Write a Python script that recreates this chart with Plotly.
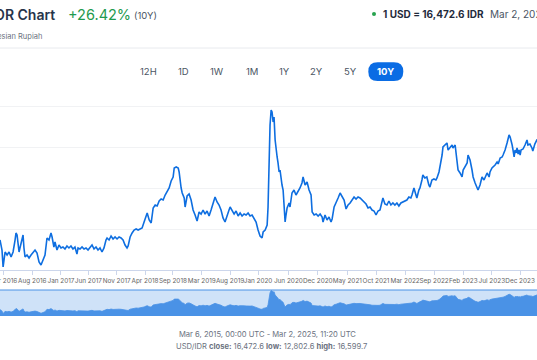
import plotly.graph_objects as go

# ---------------- data ----------------
dates = [
"2016-02-17","2016-02-23","2016-02-28","2016-03-05","2016-03-10","2016-03-16","2016-03-27","2016-04-07","2016-04-18","2016-04-29",
"2016-05-10","2016-05-15","2016-05-21","2016-05-26","2016-06-01","2016-06-06","2016-06-17","2016-06-23","2016-06-28","2016-07-04",
"2016-07-15","2016-07-26","2016-08-06","2016-08-17","2016-08-28","2016-09-08","2016-09-19","2016-09-30","2016-10-11","2016-10-22",
"2016-11-02","2016-11-13","2016-11-24","2016-11-30","2016-12-10","2016-12-16","2016-12-27","2017-01-07","2017-01-18","2017-01-29",
"2017-02-09","2017-02-20","2017-03-03","2017-03-14","2017-03-25","2017-04-05","2017-04-16","2017-04-22","2017-05-03","2017-05-14",
"2017-05-25","2017-06-05","2017-06-16","2017-06-27","2017-07-08","2017-07-19","2017-07-30","2017-08-10","2017-08-21","2017-09-01",
"2017-09-12","2017-09-23","2017-09-29","2017-10-10","2017-10-21","2017-11-01","2017-11-12","2017-11-23","2017-12-04","2017-12-15",
"2017-12-26","2018-01-06","2018-01-17","2018-01-23","2018-02-03","2018-02-14","2018-02-25","2018-03-08","2018-03-19","2018-03-30",
"2018-04-10","2018-04-21","2018-05-02","2018-05-08","2018-05-19","2018-05-30","2018-06-10","2018-06-21","2018-07-02","2018-07-13",
"2018-07-24","2018-08-04","2018-08-15","2018-08-26","2018-09-06","2018-09-17","2018-09-28","2018-10-04","2018-10-15","2018-10-26",
"2018-10-31","2018-11-11","2018-11-17","2018-11-28","2018-12-03","2018-12-14","2018-12-25","2019-01-05","2019-01-16","2019-01-27",
"2019-02-07","2019-02-18","2019-03-01","2019-03-12","2019-03-23","2019-04-03","2019-04-14","2019-04-25","2019-05-06","2019-05-17",
"2019-05-28","2019-06-08","2019-06-19","2019-06-30","2019-07-11","2019-07-22","2019-08-02","2019-08-08","2019-08-19","2019-08-30",
"2019-09-10","2019-09-21","2019-10-02","2019-10-13","2019-10-24","2019-11-04","2019-11-15","2019-11-26","2019-12-07","2019-12-18",
"2019-12-29","2020-01-09","2020-01-20","2020-01-31","2020-02-06","2020-02-17","2020-02-28","2020-03-04","2020-03-10","2020-03-15",
"2020-03-21","2020-03-26","2020-04-01","2020-04-06","2020-04-12","2020-04-17","2020-04-23","2020-04-28","2020-05-04","2020-05-09",
"2020-05-15","2020-05-20","2020-05-26","2020-05-31","2020-06-06","2020-06-11","2020-06-17","2020-06-28","2020-07-03","2020-07-14",
"2020-07-25","2020-08-05","2020-08-16","2020-08-27","2020-09-07","2020-09-13","2020-09-24","2020-10-05","2020-10-16","2020-10-27",
"2020-11-02","2020-11-13","2020-11-24","2020-12-05","2020-12-16","2020-12-27","2021-01-01","2021-01-12","2021-01-23","2021-02-03",
"2021-02-14","2021-02-20","2021-03-03","2021-03-14","2021-03-25","2021-04-05","2021-04-16","2021-04-27","2021-05-08","2021-05-19",
"2021-05-30","2021-06-10","2021-06-21","2021-07-02","2021-07-13","2021-07-24","2021-08-04","2021-08-15","2021-08-26","2021-09-06",
"2021-09-17","2021-09-28","2021-10-09","2021-10-20","2021-10-31","2021-11-11","2021-11-22","2021-11-27","2021-12-08","2021-12-19",
"2021-12-30","2022-01-10","2022-01-21","2022-02-01","2022-02-12","2022-02-23","2022-03-06","2022-03-17","2022-03-28","2022-04-08",
"2022-04-19","2022-04-30","2022-05-06","2022-05-17","2022-05-28","2022-06-02","2022-06-13","2022-06-19","2022-06-30","2022-07-05",
"2022-07-16","2022-07-27","2022-08-07","2022-08-13","2022-08-24","2022-09-04","2022-09-15","2022-09-21","2022-10-02","2022-10-08",
"2022-10-19","2022-10-24","2022-11-04","2022-11-15","2022-11-21","2022-12-02","2022-12-13","2022-12-18","2022-12-30","2023-01-04",
"2023-01-10","2023-01-15","2023-01-26","2023-02-06","2023-02-12","2023-02-23","2023-03-06","2023-03-11","2023-03-17","2023-03-22",
"2023-04-02","2023-04-08","2023-04-19","2023-04-30","2023-05-05","2023-05-16","2023-05-27","2023-06-07","2023-06-18","2023-06-24",
"2023-07-05","2023-07-10","2023-07-21","2023-07-27","2023-08-07","2023-08-18","2023-08-24","2023-09-04","2023-09-15","2023-09-20",
"2023-10-01","2023-10-12","2023-10-18","2023-10-23","2023-10-29","2023-11-03","2023-11-09","2023-11-14","2023-11-20","2023-11-25",
"2023-12-01","2023-12-06","2023-12-12","2023-12-17","2023-12-23","2023-12-28","2024-01-08","2024-01-19","2024-01-30","2024-02-04",
"2024-02-15","2024-02-26","2024-03-02","2024-03-13","2024-03-24","2024-04-10",
]
rates = [
13457,13336,13215,12804,13022,13167,13094,13167,13046,13167,
13457,13627,13578,13336,13167,13264,13506,13578,13264,13046,
13094,13022,13094,13167,13215,13143,12925,12852,12973,13094,
13506,13457,13627,13530,13288,13409,13215,13336,13264,13288,
13240,13312,13264,13312,13240,13288,13118,13264,13240,13288,
13240,13264,13215,13288,13336,13240,13288,13215,13264,13167,
13264,13457,13506,13457,13554,13482,13530,13482,13530,13506,
13457,13336,13264,13312,13530,13627,13699,13724,13699,13724,
13748,13893,14038,14111,13941,13869,14232,14304,14280,14401,
14449,14425,14546,14619,14716,14885,14982,15200,15224,15200,
15103,14716,14595,14474,14256,14522,14570,14425,14183,14062,
13917,14135,14086,14183,14086,14159,14038,14183,14328,14498,
14377,14304,14183,13990,13893,14062,14183,14256,14159,14086,
14159,14038,14111,14038,14086,14062,14111,14038,14062,13966,
13893,13699,13554,13506,13651,13699,13820,14256,15393,16240,
16603,16555,16313,16434,15877,15635,15466,15321,15103,15151,
14909,14788,14667,14304,13893,14062,14232,14353,14256,14595,
14667,14546,14619,14716,14837,14982,14788,14861,14667,14546,
14135,14062,14086,14038,14086,14014,13893,14062,13941,14014,
13893,13966,14256,14353,14474,14595,14498,14425,14208,14304,
14353,14425,14498,14449,14498,14474,14425,14401,14328,14232,
14256,14183,14159,14062,14159,14183,14353,14474,14328,14304,
14401,14304,14353,14304,14353,14280,14353,14377,14401,14425,
14498,14474,14546,14716,14546,14474,14667,14716,14909,15030,
14958,14982,14788,14740,14909,14934,14909,14958,15103,15224,
15514,15708,15756,15805,15635,15708,15756,15684,15756,15563,
15393,15151,15079,14982,15151,15224,15321,15514,15466,15393,
15151,14982,14837,14740,14667,14788,14982,14909,15030,15079,
14982,15103,15200,15224,15272,15345,15297,15442,15466,15514,
15635,15805,15926,15998,15950,15877,15756,15635,15466,15635,
15563,15684,15538,15635,15514,15635,15659,15756,15877,15756,
15780,15684,15611,15780,15877,15853,
]

tick_dates = ["2016-03-06","2016-08-13","2017-01-18","2017-06-18","2017-11-21","2018-04-26",
              "2018-09-27","2019-03-05","2019-08-08","2020-01-09","2020-06-24","2020-12-03",
              "2021-05-15","2021-10-20","2022-03-29","2022-09-05","2023-02-13","2023-07-20",
              "2023-12-23"]
tick_labels = ["Mar 2016","Aug 2016","Jan 2017","Jun 2017","Nov 2017","Apr 2018",
               "Sep 2018","Mar 2019","Aug 2019","Jan 2020","Jun 2020","Dec 2020",
               "May 2021","Oct 2021","Mar 2022","Sep 2022","Feb 2023","Jul 2023",
               "Dec 2023"]
grid_values = [13700, 14700, 15700, 16700]
range_buttons = ["12H", "1D", "1W", "1M", "1Y", "2Y", "5Y", "10Y"]
active_button = "10Y"

# ---------------- layout helpers ----------------
W, H = 537, 360
def px(x): return x / W
def py(y): return 1 - y / H

FONT = "Inter, Roboto, sans-serif"
BLUE = "#0e6ee0"

fig = go.Figure()
fig.add_trace(go.Scatter(x=dates, y=rates, mode="lines",
                         line=dict(color=BLUE, width=1.6), xaxis="x", yaxis="y",
                         hoverinfo="skip"))
fig.add_trace(go.Scatter(x=dates, y=rates, mode="lines", fill="tozeroy",
                         fillcolor="#4a92e6", line=dict(color="#4a92e6", width=0.8),
                         xaxis="x2", yaxis="y2", hoverinfo="skip"))

xrange = ["2016-02-17", "2024-03-25"]

shapes = []
# header separator
shapes.append(dict(type="line", xref="paper", yref="paper", x0=0, x1=1,
                   y0=py(48), y1=py(48), line=dict(color="#e8eaee", width=1)))
# navigator mask
shapes.append(dict(type="rect", xref="paper", yref="paper", x0=0, x1=1,
                   y0=py(316), y1=py(290), fillcolor="#cfe2f8", line=dict(width=0),
                   layer="below"))
shapes.append(dict(type="line", xref="paper", yref="paper", x0=0, x1=1,
                   y0=py(290), y1=py(290), line=dict(color="#4a92e6", width=1)))
# green status dot
shapes.append(dict(type="circle", xref="paper", yref="paper",
                   x0=px(372), x1=px(376), y0=py(16), y1=py(12),
                   fillcolor="#27a34f", line=dict(width=0)))
# active range pill
x0, x1, y0, y1, r = 368.3, 403.3, 62.3, 81.0, 9.35
rx, ry = r / W, r / H
X0, X1, Y0, Y1 = px(x0), px(x1), py(y1), py(y0)
path = (f"M {X0+rx},{Y0} L {X1-rx},{Y0} Q {X1},{Y0} {X1},{Y0+ry} "
        f"L {X1},{Y1-ry} Q {X1},{Y1} {X1-rx},{Y1} L {X0+rx},{Y1} "
        f"Q {X0},{Y1} {X0},{Y1-ry} L {X0},{Y0+ry} Q {X0},{Y0} {X0+rx},{Y0} Z")
shapes.append(dict(type="path", xref="paper", yref="paper", path=path,
                   fillcolor="#0a6ce4", line=dict(width=0)))

ann = []
def text(x, y, s, size, color, anchor="left", weight="normal"):
    ann.append(dict(x=px(x), y=py(y), xref="paper", yref="paper", text=s,
                    showarrow=False, xanchor=anchor, yanchor="middle",
                    font=dict(family=FONT, size=size, color=color, weight=weight)))

text(57, 15, "USD to IDR Chart", 14, "#27344a", "right", 600)
text(66, 15, "+26.42%", 14.5, "#1f9a4e", "left")
text(132, 16, "(10Y)", 9.5, "#4b5563", "left")
text(43.5, 36.5, "US Dollar to Indonesian Rupiah", 7.5, "#6b7280", "right")
text(381, 14, "<b>1 USD = 16,472.6 IDR</b>", 10, "#1f2a3c", "left")
text(487.5, 14, "Mar 2, 2025, 11:20 UTC", 10, "#4b5563", "left")

btn_x = [148.3, 183.8, 217, 252, 284.5, 316.7, 350, 385.5]
for lbl, bx in zip(range_buttons, btn_x):
    if lbl == active_button:
        text(bx, 72, f"<b>{lbl}</b>", 9.5, "#ffffff", "center")
    else:
        text(bx, 72, lbl, 9.5, "#4b5563", "center")

text(267.5, 334.3, "Mar 6, 2015, 00:00 UTC - Mar 2, 2025, 11:20 UTC", 7.6, "#6b7280", "center")
text(271.7, 346.7,
     "USD/IDR <b>close:</b> 16,472.6 <b>low:</b> 12,802.6 <b>high:</b> 16,599.7",
     7.6, "#6b7280", "center")

fig.update_layout(
    width=W, height=H, autosize=False,
    margin=dict(l=0, r=0, t=0, b=0, pad=0, autoexpand=False),
    paper_bgcolor="white", plot_bgcolor="rgba(0,0,0,0)",
    showlegend=False,
    shapes=shapes, annotations=ann,
    xaxis=dict(type="date", range=xrange, domain=[0, 1], anchor="y",
               tickvals=tick_dates, ticktext=tick_labels, tickmode="array",
               tickangle=0, automargin=False, ticklabeloverflow="allow",
               ticks="outside", ticklen=4, tickcolor="#ccd6eb", tickwidth=1,
               showline=True, linecolor="#ccd6eb", linewidth=1,
               showgrid=False, zeroline=False,
               tickfont=dict(family=FONT, size=6.4, color="#666666"),
               fixedrange=True),
    yaxis=dict(range=[12731.2, 17087.2], domain=[py(270), py(90)], anchor="x",
               tickvals=grid_values, showticklabels=False, ticks="", automargin=False,
               showgrid=True, gridcolor="#f1f2f4", gridwidth=1,
               zeroline=False, showline=False, fixedrange=True),
    xaxis2=dict(type="date", range=xrange, domain=[0, 1], anchor="y2", automargin=False,
                showticklabels=False, showgrid=False, zeroline=False,
                showline=False, ticks="", fixedrange=True),
    yaxis2=dict(range=[12400, 16700], domain=[py(316), py(290)], anchor="x2", automargin=False,
                showticklabels=False, showgrid=False, zeroline=False,
                showline=False, ticks="", fixedrange=True),
)

fig.write_html("out.html", config={"displayModeBar": False},
               post_script="document.body.style.margin='0px';document.body.style.overflow='hidden';")
